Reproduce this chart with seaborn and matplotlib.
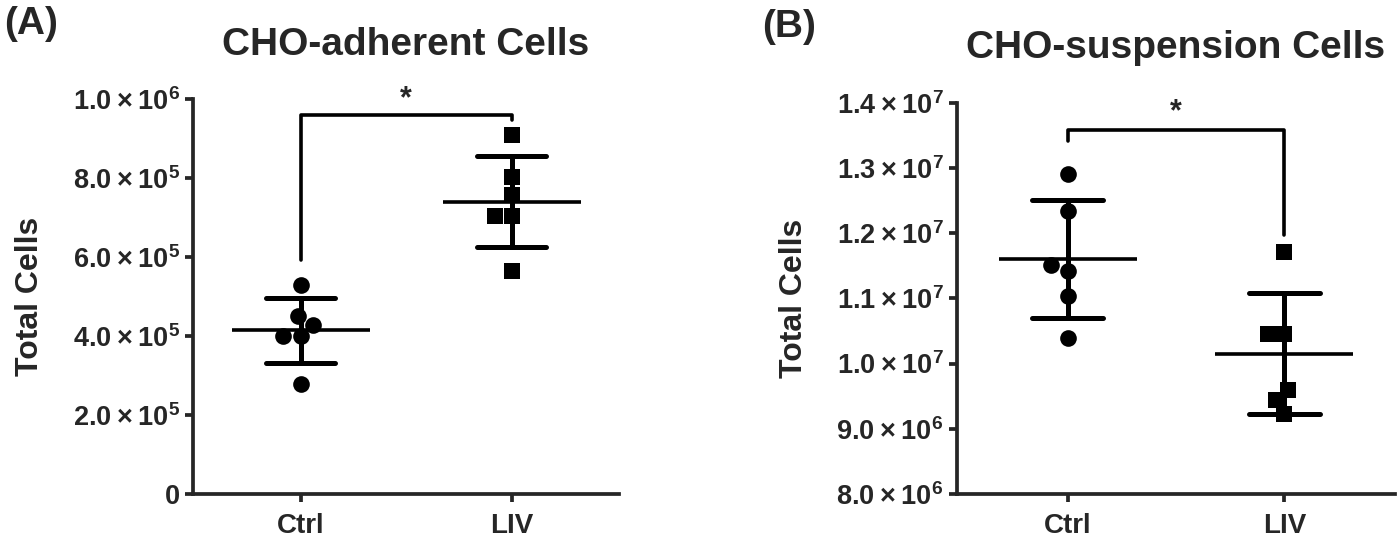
import numpy as np
import pandas as pd
import matplotlib
matplotlib.use("Agg")
import matplotlib.pyplot as plt
import seaborn as sns

# values
groups = ["Ctrl", "LIV"]

adh_ctrl = [5.30e5, 4.50e5, 4.29e5, 3.99e5, 3.99e5, 2.78e5]
adh_liv = [9.09e5, 8.02e5, 7.57e5, 7.03e5, 7.03e5, 5.64e5]

sus_ctrl = [1.291e7, 1.234e7, 1.142e7, 1.151e7, 1.104e7, 1.039e7]
sus_liv = [1.171e7, 1.046e7, 1.046e7, 9.60e6, 9.44e6, 9.23e6]

adh_ticks = [0, 2e5, 4e5, 6e5, 8e5, 1e6]
adh_ticklabels = ["0", r"$\mathbf{2.0\times10^5}$", r"$\mathbf{4.0\times10^5}$",
                  r"$\mathbf{6.0\times10^5}$", r"$\mathbf{8.0\times10^5}$",
                  r"$\mathbf{1.0\times10^6}$"]
sus_ticks = [8e6, 9e6, 1e7, 1.1e7, 1.2e7, 1.3e7, 1.4e7]
sus_ticklabels = [r"$\mathbf{8.0\times10^6}$", r"$\mathbf{9.0\times10^6}$",
                  r"$\mathbf{1.0\times10^7}$", r"$\mathbf{1.1\times10^7}$",
                  r"$\mathbf{1.2\times10^7}$", r"$\mathbf{1.3\times10^7}$",
                  r"$\mathbf{1.4\times10^7}$"]

# significance brackets: [left leg end, top, right leg end, star height]
adh_bracket = [5.93e5, 9.60e5, 9.47e5, 1.0e6]
sus_bracket = [1.342e7, 1.358e7, 1.197e7, 1.385e7]

sns.set_style("ticks")
plt.rcParams["font.family"] = ["Liberation Sans", "DejaVu Sans"]
plt.rcParams["font.weight"] = "bold"
plt.rcParams["mathtext.fontset"] = "custom"
plt.rcParams["mathtext.rm"] = "Liberation Sans"
plt.rcParams["mathtext.bf"] = "Liberation Sans:bold"
plt.rcParams["axes.linewidth"] = 2.7


def make_df(ctrl, liv):
    return pd.DataFrame({
        "group": ["Ctrl"] * len(ctrl) + ["LIV"] * len(liv),
        "cells": list(ctrl) + list(liv),
    })


def draw_panel(ax, df, ticks, ticklabels, ylim, bracket, title):
    sns.swarmplot(data=df[df.group == "Ctrl"], x="group", y="cells", order=groups,
                  color="black", marker="o", size=12, ax=ax, zorder=3)
    sns.swarmplot(data=df[df.group == "LIV"], x="group", y="cells", order=groups,
                  color="black", marker="s", size=11.5, ax=ax, zorder=3)
    # mean line with SD error bars
    sns.pointplot(data=df, x="group", y="cells", order=groups, errorbar="sd",
                  capsize=0.33, color="black", marker="_", markersize=100,
                  markeredgewidth=2.6, linestyle="none",
                  err_kws={"linewidth": 3.6}, ax=ax)

    ax.set_xlim(-0.51, 1.51)
    ax.set_ylim(*ylim)
    ax.set_yticks(ticks)
    ax.set_yticklabels(ticklabels)
    ax.tick_params(axis="both", length=6, width=2.7, labelsize=19.5)
    ax.tick_params(axis="x", labelsize=20, pad=8)
    ax.set_xlabel("")
    ax.set_ylabel("Total Cells", fontsize=23, fontweight="bold", labelpad=20)
    ax.set_title(title, fontsize=28, fontweight="bold", pad=32)
    sns.despine(ax=ax)

    ax.plot([0, 0, 1, 1], [bracket[0], bracket[1], bracket[1], bracket[2]],
            color="black", linewidth=2.6, clip_on=False)
    ax.text(0.5, bracket[3], "*", ha="center", va="center", fontsize=22,
            fontweight="bold", clip_on=False)


fig = plt.figure(figsize=(13.99, 5.41), dpi=100)
ax_a = fig.add_axes([0.138, 0.0869, 0.3045, 0.730])
ax_b = fig.add_axes([0.684, 0.0869, 0.3131, 0.7233])

draw_panel(ax_a, make_df(adh_ctrl, adh_liv), adh_ticks, adh_ticklabels,
           (0, 1e6), adh_bracket, "CHO-adherent Cells")
draw_panel(ax_b, make_df(sus_ctrl, sus_liv), sus_ticks, sus_ticklabels,
           (8e6, 1.4e7), sus_bracket, "CHO-suspension Cells")

fig.text(0.003, 0.955, "(A)", fontsize=28, fontweight="bold", va="center")
fig.text(0.545, 0.950, "(B)", fontsize=28, fontweight="bold", va="center")

fig.savefig("out.png", dpi=100)
